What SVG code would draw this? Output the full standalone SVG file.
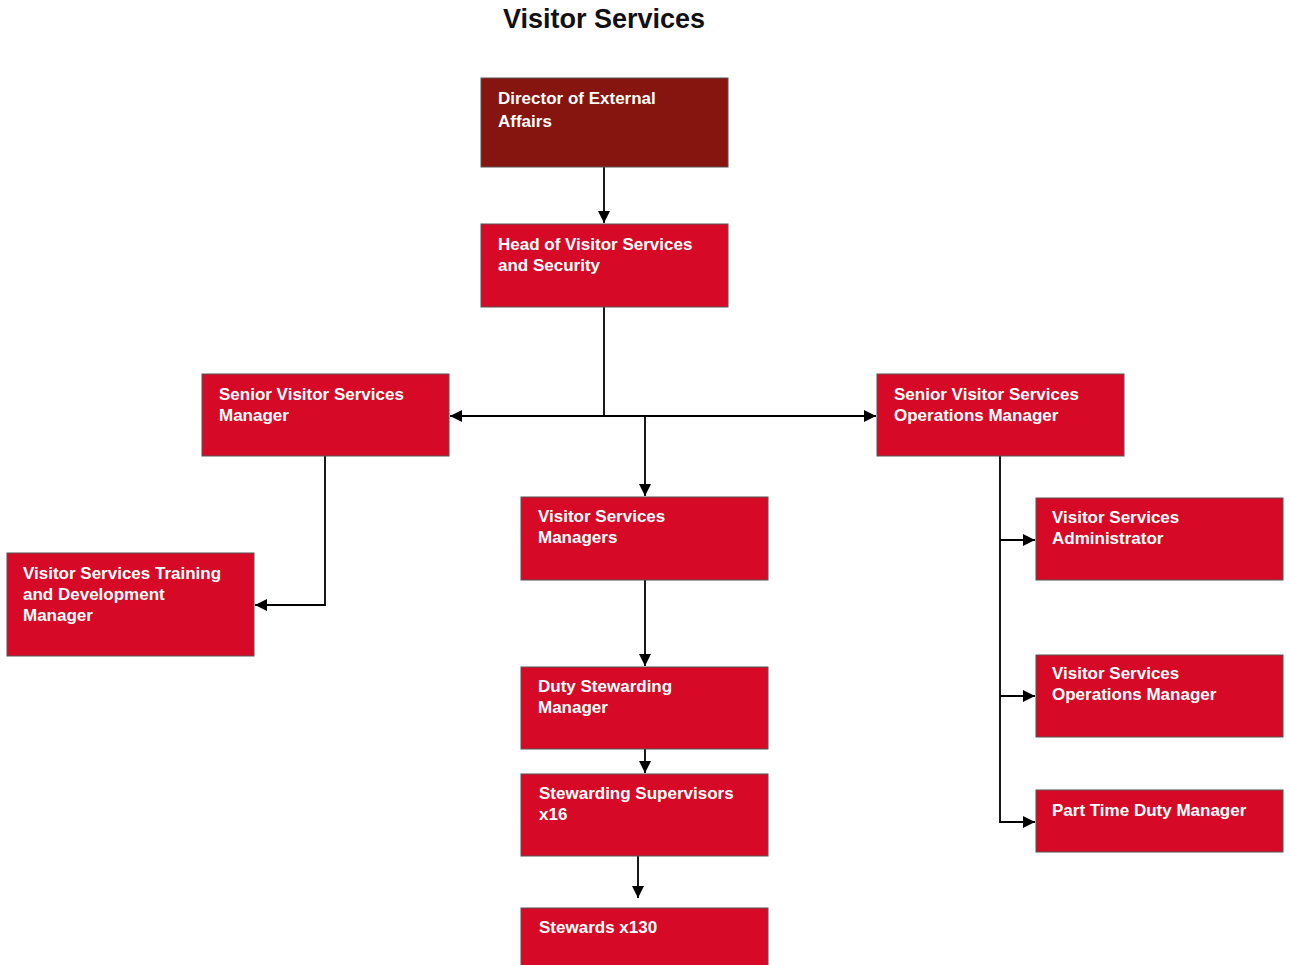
<svg xmlns="http://www.w3.org/2000/svg" width="1289" height="965" viewBox="0 0 1289 965">
<style>
.box{fill:#d60a27;stroke:#555;stroke-width:1}
.dir{fill:#86140f;stroke:#555;stroke-width:1}
.t{font-family:"Liberation Sans",Arial,sans-serif;font-weight:bold;font-size:17px;fill:#fff}
.title{font-family:"Liberation Sans",Arial,sans-serif;font-weight:bold;font-size:27px;fill:#111}
.c{fill:none;stroke:#000;stroke-width:1.8}
</style>
<defs>
<marker id="ah" viewBox="0 0 10 10" refX="10" refY="5" markerWidth="12" markerHeight="12" markerUnits="userSpaceOnUse" orient="auto">
<path d="M0,0 L10,5 L0,10 z" fill="#000"/>
</marker>
</defs>
<rect width="1289" height="965" fill="#fff"/>
<text class="title" x="604" y="28" text-anchor="middle">Visitor Services</text>
<g id="connectors">
<path class="c" d="M604,167 V223" marker-end="url(#ah)"/>
<path class="c" d="M604,307 V416"/>
<path class="c" d="M604,416 H450" marker-end="url(#ah)"/>
<path class="c" d="M604,416 H876" marker-end="url(#ah)"/>
<path class="c" d="M645,416 V496" marker-end="url(#ah)"/>
<path class="c" d="M325,456 V605 H255" marker-end="url(#ah)"/>
<path class="c" d="M1000,456 V822 H1035" marker-end="url(#ah)"/>
<path class="c" d="M1000,540 H1035" marker-end="url(#ah)"/>
<path class="c" d="M1000,696 H1035" marker-end="url(#ah)"/>
<path class="c" d="M645,580 V666" marker-end="url(#ah)"/>
<path class="c" d="M645,749 V773" marker-end="url(#ah)"/>
<path class="c" d="M638,856 V898" marker-end="url(#ah)"/>
</g>
<g id="director">
<rect class="dir" x="481" y="78" width="247" height="89"/>
<text class="t" x="498" y="104">Director of External</text>
<text class="t" x="498" y="127">Affairs</text>
</g>
<g id="head">
<rect class="box" x="481" y="224" width="247" height="83"/>
<text class="t" x="498" y="250">Head of Visitor Services</text>
<text class="t" x="498" y="271">and Security</text>
</g>
<g id="senior-vsm">
<rect class="box" x="202" y="374" width="247" height="82"/>
<text class="t" x="219" y="400">Senior Visitor Services</text>
<text class="t" x="219" y="421">Manager</text>
</g>
<g id="senior-ops">
<rect class="box" x="877" y="374" width="247" height="82"/>
<text class="t" x="894" y="400">Senior Visitor Services</text>
<text class="t" x="894" y="421">Operations Manager</text>
</g>
<g id="vs-managers">
<rect class="box" x="521" y="497" width="247" height="83"/>
<text class="t" x="538" y="522">Visitor Services</text>
<text class="t" x="538" y="543">Managers</text>
</g>
<g id="training">
<rect class="box" x="7" y="553" width="247" height="103"/>
<text class="t" x="23" y="579">Visitor Services Training</text>
<text class="t" x="23" y="600">and Development</text>
<text class="t" x="23" y="621">Manager</text>
</g>
<g id="duty-stewarding">
<rect class="box" x="521" y="667" width="247" height="82"/>
<text class="t" x="538" y="692">Duty Stewarding</text>
<text class="t" x="538" y="713">Manager</text>
</g>
<g id="supervisors">
<rect class="box" x="521" y="774" width="247" height="82"/>
<text class="t" x="539" y="799">Stewarding Supervisors</text>
<text class="t" x="539" y="820">x16</text>
</g>
<g id="stewards">
<rect class="box" x="521" y="908" width="247" height="62"/>
<text class="t" x="539" y="933">Stewards x130</text>
</g>
<g id="vs-admin">
<rect class="box" x="1036" y="498" width="247" height="82"/>
<text class="t" x="1052" y="523">Visitor Services</text>
<text class="t" x="1052" y="544">Administrator</text>
</g>
<g id="vs-ops">
<rect class="box" x="1036" y="655" width="247" height="82"/>
<text class="t" x="1052" y="679">Visitor Services</text>
<text class="t" x="1052" y="700">Operations Manager</text>
</g>
<g id="part-time">
<rect class="box" x="1036" y="790" width="247" height="62"/>
<text class="t" x="1052" y="816">Part Time Duty Manager</text>
</g>
</svg>
